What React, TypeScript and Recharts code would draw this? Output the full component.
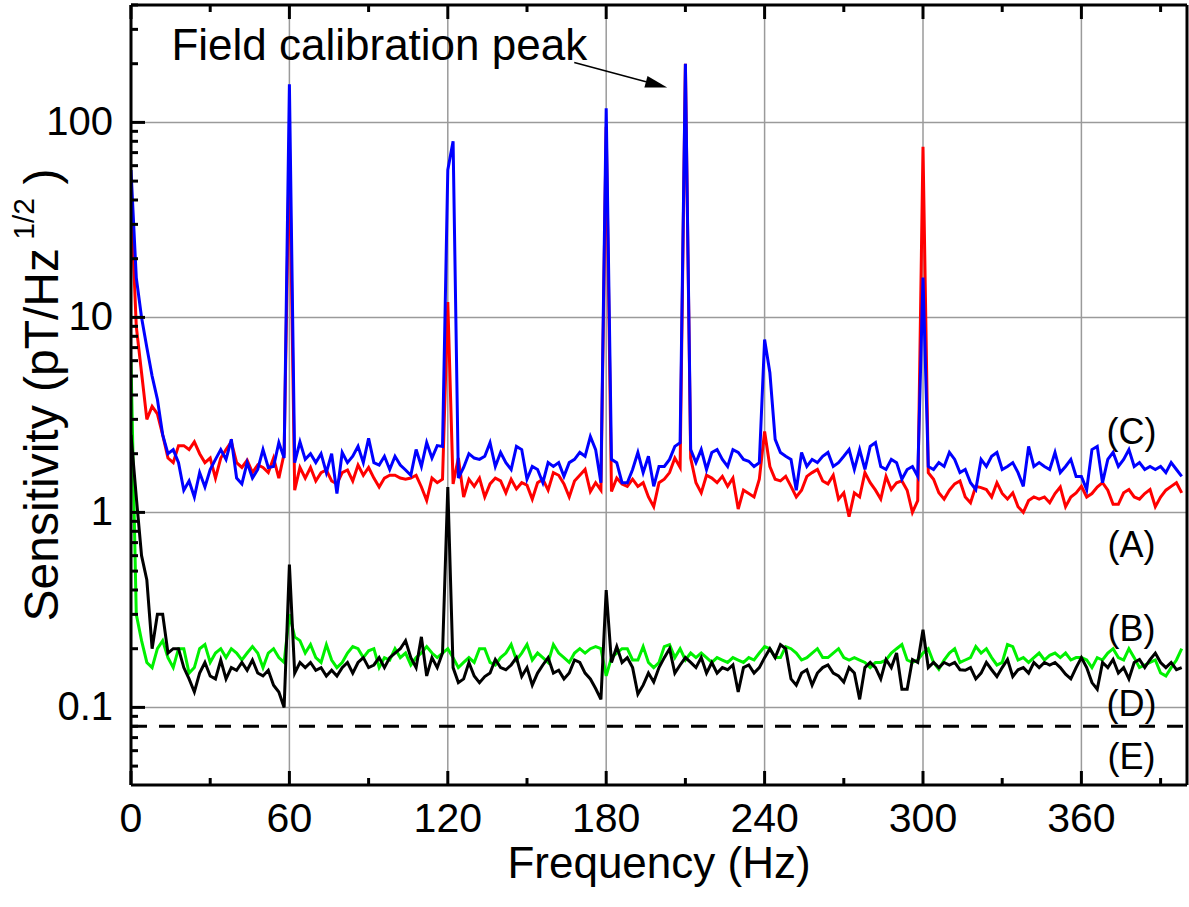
import React from 'react';
import { LineChart, Line, XAxis, YAxis, CartesianGrid, ReferenceLine, ReferenceDot } from 'recharts';

const FONT = 'Arial, "Liberation Sans", Helvetica, sans-serif';

// frequency bins (Hz), 2 Hz spacing
const freq = Array.from({ length: 200 }, (_, i) => i * 2);

// (A) red
const seriesA = [
    40, 9, 5.2, 3.0, 3.5, 3.2, 2.5, 1.9, 1.8, 2.2,
    2.2, 2.1, 2.3, 2.0, 1.8, 1.9, 1.5, 1.9, 2.1, 2.3,
    1.8, 1.7, 1.85, 1.6, 1.75, 1.7, 1.6, 1.9, 1.5, 2.0,
    80, 1.3, 1.7, 1.5, 1.7, 1.45, 1.6, 1.65, 1.45, 1.4,
    1.6, 1.65, 1.45, 1.75, 1.55, 1.7, 1.5, 1.35, 1.5, 1.55,
    1.55, 1.5, 1.48, 1.5, 1.55, 1.35, 1.15, 1.5, 1.42, 1.48,
    12, 1.4, 1.9, 1.2, 1.48, 1.36, 1.5, 1.2, 1.4, 1.5,
    1.45, 1.26, 1.48, 1.32, 1.42, 1.38, 1.17, 1.42, 1.48, 1.3,
    1.6, 1.55, 1.4, 1.2, 1.45, 1.55, 1.66, 1.28, 1.42, 1.3,
    95, 1.28, 1.5, 1.4, 1.36, 1.48, 1.36, 1.42, 1.2, 1.07,
    1.42, 1.48, 1.6, 1.9, 1.7, 200, 1.9, 1.42, 1.26, 1.55,
    1.5, 1.42, 1.53, 1.36, 1.5, 1.04, 1.3, 1.25, 1.2, 1.48,
    2.6, 1.72, 1.48, 1.45, 1.53, 1.36, 1.2, 1.3, 1.53, 1.6,
    1.66, 1.45, 1.4, 1.55, 1.17, 1.26, 0.95, 1.26, 1.2, 1.6,
    1.42, 1.3, 1.17, 1.53, 1.31, 1.42, 1.45, 1.3, 1.0, 1.15,
    75, 1.6, 1.48, 1.26, 1.17, 1.3, 1.4, 1.45, 1.2, 1.12,
    1.36, 1.34, 1.31, 1.2, 1.42, 1.25, 1.17, 1.26, 1.07, 1.0,
    1.15, 1.2, 1.17, 1.2, 1.12, 1.25, 1.35, 1.07, 1.2, 1.26,
    1.36, 1.2, 1.25, 1.35, 1.42, 1.3, 1.1, 1.1, 1.26, 1.31,
    1.2, 1.17, 1.25, 1.31, 1.07, 1.2, 1.3, 1.36, 1.42, 1.26,
];

// (B) green
const seriesB = [
    6, 0.3, 0.22, 0.17, 0.16, 0.2, 0.22, 0.18, 0.16, 0.2,
    0.2, 0.15, 0.16, 0.2, 0.21, 0.17, 0.19, 0.2, 0.18, 0.2,
    0.19, 0.175, 0.19, 0.205, 0.19, 0.16, 0.19, 0.2, 0.18, 0.17,
    0.3, 0.23, 0.22, 0.19, 0.21, 0.18, 0.17, 0.21, 0.175, 0.16,
    0.17, 0.19, 0.205, 0.2, 0.18, 0.195, 0.2, 0.16, 0.18, 0.175,
    0.2, 0.18, 0.19, 0.165, 0.18, 0.19, 0.205, 0.19, 0.18, 0.19,
    0.2, 0.18, 0.16, 0.17, 0.18, 0.17, 0.2, 0.2, 0.17, 0.165,
    0.18, 0.19, 0.21, 0.175, 0.19, 0.21, 0.175, 0.19, 0.18, 0.17,
    0.21, 0.19, 0.18, 0.17, 0.19, 0.2, 0.19, 0.2, 0.205, 0.2,
    0.145, 0.18, 0.19, 0.2, 0.2, 0.175, 0.175, 0.205, 0.17, 0.16,
    0.17, 0.205, 0.21, 0.18, 0.2, 0.175, 0.19, 0.18, 0.19, 0.18,
    0.17, 0.18, 0.175, 0.17, 0.18, 0.175, 0.17, 0.18, 0.175, 0.19,
    0.205, 0.2, 0.18, 0.18, 0.205, 0.2, 0.19, 0.175, 0.18, 0.19,
    0.2, 0.18, 0.18, 0.19, 0.2, 0.18, 0.175, 0.18, 0.175, 0.17,
    0.16, 0.17, 0.17, 0.175, 0.19, 0.2, 0.21, 0.175, 0.17, 0.175,
    0.19, 0.2, 0.17, 0.157, 0.175, 0.19, 0.2, 0.17, 0.175, 0.18,
    0.205, 0.19, 0.2, 0.18, 0.165, 0.17, 0.21, 0.205, 0.175, 0.18,
    0.17, 0.18, 0.19, 0.175, 0.185, 0.19, 0.18, 0.19, 0.175, 0.18,
    0.18, 0.175, 0.16, 0.18, 0.175, 0.19, 0.2, 0.18, 0.175, 0.2,
    0.18, 0.16, 0.165, 0.17, 0.175, 0.15, 0.145, 0.16, 0.175, 0.2,
];

// (C) blue
const seriesC = [
    57, 16, 10, 7, 5.0, 3.8, 2.5, 2.0, 2.1, 1.8,
    1.3, 1.45, 1.2, 1.6, 1.35, 1.66, 1.87, 2.1, 1.87, 2.37,
    1.5, 1.4, 1.8, 1.5, 1.66, 2.1, 1.7, 1.72, 2.28, 1.9,
    157, 1.8, 2.3, 1.87, 2.0, 1.8, 2.0, 1.6, 2.0, 1.25,
    2.03, 1.8, 1.94, 2.18, 1.8, 2.4, 1.8, 1.75, 1.94, 1.66,
    1.94, 1.75, 1.65, 1.55, 2.1, 1.72, 2.28, 1.9, 2.2, 2.18,
    57, 80, 1.5, 1.7, 2.0, 1.9, 1.87, 1.94, 2.28, 1.72,
    2.03, 1.8, 1.66, 2.18, 2.1, 1.48, 1.72, 1.66, 1.42, 1.8,
    1.72, 1.8, 1.53, 1.8, 1.87, 2.03, 1.94, 2.45, 2.1, 1.42,
    118, 1.87, 1.8, 1.42, 1.42, 1.66, 2.03, 1.6, 1.94, 1.36,
    1.72, 1.72, 1.87, 2.18, 2.28, 200, 2.1, 1.8, 2.1, 1.66,
    2.03, 2.1, 1.87, 1.72, 2.1, 2.03, 1.87, 1.83, 1.72, 1.8,
    7.7, 5.2, 2.37, 2.03, 1.94, 1.87, 1.3, 2.03, 1.72, 1.87,
    1.8, 1.94, 2.03, 1.72, 1.8, 1.94, 2.1, 1.66, 2.1, 1.66,
    2.18, 2.28, 1.72, 1.66, 1.87, 1.8, 1.48, 1.66, 1.72, 1.53,
    16, 1.72, 1.66, 1.8, 1.72, 2.03, 1.87, 1.6, 1.66, 1.42,
    1.31, 1.87, 1.72, 1.94, 2.03, 1.66, 1.72, 1.8, 1.6, 1.36,
    2.18, 1.72, 1.8, 1.72, 1.66, 2.03, 1.6, 1.72, 1.87, 1.53,
    1.53, 1.31, 2.1, 2.18, 1.42, 1.87, 2.03, 1.72, 1.87, 2.1,
    1.72, 1.8, 1.66, 1.72, 1.66, 1.72, 1.6, 1.8, 1.66, 1.53,
];

// (D) black
const seriesD = [
    2.5, 1.2, 0.6, 0.45, 0.2, 0.3, 0.3, 0.19, 0.2, 0.2,
    0.16, 0.14, 0.12, 0.15, 0.17, 0.145, 0.14, 0.175, 0.14, 0.16,
    0.155, 0.17, 0.155, 0.175, 0.15, 0.145, 0.155, 0.13, 0.12, 0.1,
    0.54, 0.15, 0.17, 0.16, 0.17, 0.155, 0.16, 0.145, 0.155, 0.145,
    0.16, 0.17, 0.15, 0.17, 0.18, 0.16, 0.165, 0.18, 0.16, 0.18,
    0.19, 0.2, 0.22, 0.18, 0.16, 0.23, 0.145, 0.18, 0.16, 0.19,
    1.35, 0.16, 0.134, 0.14, 0.17, 0.145, 0.134, 0.144, 0.15, 0.176,
    0.16, 0.156, 0.165, 0.18, 0.144, 0.16, 0.13, 0.15, 0.165, 0.18,
    0.15, 0.155, 0.14, 0.15, 0.175, 0.17, 0.15, 0.14, 0.125, 0.11,
    0.4, 0.17, 0.205, 0.17, 0.18, 0.16, 0.117, 0.13, 0.15, 0.135,
    0.16, 0.18, 0.2, 0.15, 0.165, 0.18, 0.17, 0.16, 0.18, 0.15,
    0.17, 0.15, 0.16, 0.156, 0.165, 0.12, 0.16, 0.165, 0.15, 0.16,
    0.18, 0.2, 0.18, 0.21, 0.2, 0.14, 0.13, 0.15, 0.156, 0.13,
    0.15, 0.16, 0.165, 0.15, 0.145, 0.135, 0.16, 0.15, 0.11, 0.16,
    0.17, 0.16, 0.14, 0.176, 0.16, 0.19, 0.124, 0.124, 0.176, 0.17,
    0.25, 0.16, 0.17, 0.16, 0.17, 0.165, 0.17, 0.156, 0.155, 0.16,
    0.14, 0.15, 0.17, 0.156, 0.144, 0.16, 0.176, 0.144, 0.156, 0.16,
    0.15, 0.17, 0.16, 0.17, 0.165, 0.17, 0.16, 0.148, 0.14, 0.16,
    0.18, 0.16, 0.134, 0.124, 0.17, 0.16, 0.176, 0.15, 0.16, 0.14,
    0.17, 0.176, 0.16, 0.176, 0.19, 0.17, 0.16, 0.17, 0.156, 0.16,
];

// (E) level
const noiseFloor = 0.08;

const xTicks = [0, 30, 60, 90, 120, 150, 180, 210, 240, 270, 300, 330, 360, 390];
const xLabelTicks = [0, 60, 120, 180, 240, 300, 360];
const yTicks = [
    0.05, 0.06, 0.07, 0.08, 0.09,
    0.1, 0.2, 0.3, 0.4, 0.5, 0.6, 0.7, 0.8, 0.9,
    1, 2, 3, 4, 5, 6, 7, 8, 9,
    10, 20, 30, 40, 50, 60, 70, 80, 90,
    100, 200, 300, 400,
];
const yLabelTicks = [0.1, 1, 10, 100];

const data = freq.map((f, i) => ({ f, a: seriesA[i], b: seriesB[i], c: seriesC[i], d: seriesD[i] }));

// trace tags, placed in data coordinates
const traceTags = [
    { text: '(C)', f: 379, v: 2.23 },
    { text: '(A)', f: 379, v: 0.588 },
    { text: '(B)', f: 379, v: 0.218 },
    { text: '(D)', f: 379, v: 0.09 },
    { text: '(E)', f: 379, v: 0.0481 },
];

const calloutText = 'Field calibration peak';
const calloutAt = { f: 15.3, v: 210 };
const arrowFrom = { x: 167.9, y: 203 };
const arrowTo = { x: 203.1, y: 151 };

const isMajorLog = (v: number) => Math.abs(Math.log10(v) - Math.round(Math.log10(v))) < 1e-9;

const BottomTick = (props: any) => {
    const { x, y, payload } = props;
    const major = xLabelTicks.includes(payload.value);
    return (
        <g>
            <line x1={x} y1={y} x2={x} y2={y - (major ? 14 : 7)} stroke="#000" strokeWidth={3} />
            {major && (
                <text x={x} y={y + 47} textAnchor="middle" fontSize={41} fontFamily={FONT} fill="#000">
                    {payload.value}
                </text>
            )}
        </g>
    );
};

const TopTick = (props: any) => {
    const { x, y, payload } = props;
    const major = xLabelTicks.includes(payload.value);
    return <line x1={x} y1={y} x2={x} y2={y + (major ? 14 : 7)} stroke="#000" strokeWidth={3} />;
};

const LeftTick = (props: any) => {
    const { x, y, payload } = props;
    const major = isMajorLog(payload.value);
    return (
        <g>
            <line x1={x} y1={y} x2={x + (major ? 14 : 7)} y2={y} stroke="#000" strokeWidth={3} />
            {major && yLabelTicks.includes(payload.value) && (
                <text x={x - 18} y={y + 13} textAnchor="end" fontSize={40} fontFamily={FONT} fill="#000">
                    {payload.value}
                </text>
            )}
        </g>
    );
};

const YTitle = (props: any) => {
    const vb = props.viewBox || { x: 0, y: 0, width: 131, height: 780 };
    const cx = vb.x + 58;
    const cy = vb.y + vb.height / 2;
    return (
        <text transform={`translate(${cx},${cy}) rotate(-90)`} textAnchor="middle" fontSize={48} fontFamily={FONT} fill="#000">
            Sensitivity (pT/Hz
            <tspan fontSize={30} dy={-24}> 1/2</tspan>
            <tspan dy={24}> )</tspan>
        </text>
    );
};

const XTitle = (props: any) => {
    const vb = props.viewBox || { x: 131, y: 785, width: 1056, height: 122 };
    return (
        <text x={vb.x + vb.width / 2} y={vb.y + 93} textAnchor="middle" fontSize={44} fontFamily={FONT} fill="#000">
            Frequency (Hz)
        </text>
    );
};

const Arrow = (props: any) => {
    const { x1, y1, x2, y2 } = props;
    const dx = x2 - x1;
    const dy = y2 - y1;
    const len = Math.sqrt(dx * dx + dy * dy) || 1;
    const ux = dx / len;
    const uy = dy / len;
    const bx = x2 - ux * 22;
    const by = y2 - uy * 22;
    const px = -uy * 6;
    const py = ux * 6;
    return (
        <g>
            <line x1={x1} y1={y1} x2={bx} y2={by} stroke="#000" strokeWidth={1.5} />
            <polygon points={`${x2},${y2} ${bx + px},${by + py} ${bx - px},${by - py}`} fill="#000" />
        </g>
    );
};

const App: React.FC = () => {
    return (
        <div style={{ position: 'absolute', left: 0, top: 0, width: 1189, height: 907, background: '#fff' }}>
            <LineChart width={1189} height={907} data={data} margin={{ top: 0, right: 2, bottom: 0, left: 0 }}>
                <CartesianGrid
                    horizontalValues={yLabelTicks}
                    verticalValues={[60, 120, 180, 240, 300, 360]}
                    stroke="#9a9a9a"
                    strokeWidth={1.5}
                />
                <XAxis
                    dataKey="f"
                    type="number"
                    domain={[0, 400]}
                    allowDataOverflow
                    ticks={xTicks}
                    interval={0}
                    height={122}
                    tickSize={0}
                    tickMargin={0}
                    tickLine={false}
                    tick={<BottomTick />}
                    axisLine={{ stroke: '#000', strokeWidth: 3 }}
                    label={{ content: <XTitle /> }}
                />
                <XAxis
                    xAxisId="top"
                    orientation="top"
                    dataKey="f"
                    type="number"
                    domain={[0, 400]}
                    allowDataOverflow
                    ticks={xTicks}
                    interval={0}
                    height={5}
                    tickSize={0}
                    tickMargin={0}
                    tickLine={false}
                    tick={<TopTick />}
                    axisLine={{ stroke: '#000', strokeWidth: 3 }}
                />
                <YAxis
                    scale="log"
                    type="number"
                    domain={[0.04, 400]}
                    allowDataOverflow
                    ticks={yTicks}
                    interval={0}
                    width={131}
                    tickSize={0}
                    tickMargin={0}
                    tickLine={false}
                    tick={<LeftTick />}
                    axisLine={{ stroke: '#000', strokeWidth: 3 }}
                    label={{ content: <YTitle /> }}
                />
                <ReferenceLine x={400} stroke="#000" strokeWidth={3} />
                <ReferenceLine y={noiseFloor} stroke="#000" strokeWidth={3} strokeDasharray="16 12" />
                <Line dataKey="a" stroke="#ff0000" strokeWidth={3} dot={false} isAnimationActive={false} />
                <Line dataKey="c" stroke="#0000ff" strokeWidth={3} dot={false} isAnimationActive={false} />
                <Line dataKey="b" stroke="#00f000" strokeWidth={3} dot={false} isAnimationActive={false} />
                <Line dataKey="d" stroke="#000000" strokeWidth={3} dot={false} isAnimationActive={false} />
                <ReferenceLine segment={[arrowFrom, arrowTo]} shape={<Arrow />} />
                <ReferenceDot
                    x={calloutAt.f}
                    y={calloutAt.v}
                    r={0}
                    shape={(p: any) => (
                        <text x={p.cx} y={p.cy} fontSize={44} fontFamily={FONT} fill="#000">
                            {calloutText}
                        </text>
                    )}
                />
                {traceTags.map((t) => (
                    <ReferenceDot
                        key={t.text}
                        x={t.f}
                        y={t.v}
                        r={0}
                        shape={(p: any) => (
                            <text x={p.cx} y={p.cy} textAnchor="middle" fontSize={36} fontFamily={FONT} fill="#000">
                                {t.text}
                            </text>
                        )}
                    />
                ))}
            </LineChart>
        </div>
    );
};

export default App;
